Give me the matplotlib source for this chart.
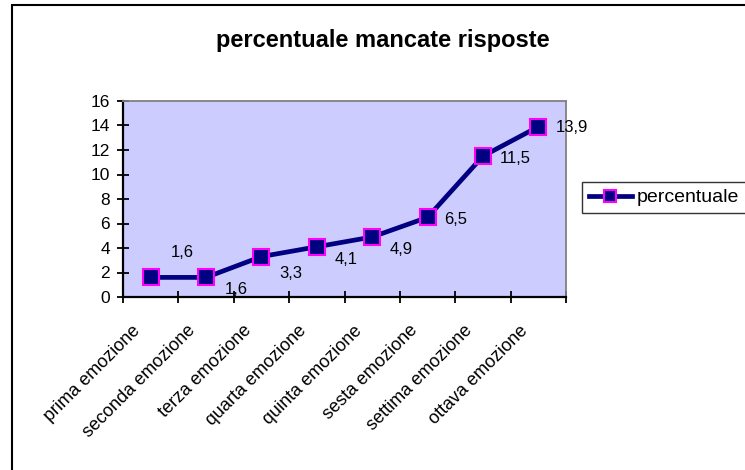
import matplotlib.pyplot as plt
from matplotlib.patches import Rectangle

plt.rcParams['font.family'] = ['Liberation Sans', 'DejaVu Sans']

categorie = ['prima emozione', 'seconda emozione', 'terza emozione', 'quarta emozione',
             'quinta emozione', 'sesta emozione', 'settima emozione', 'ottava emozione']
percentuale = [1.6, 1.6, 3.3, 4.1, 4.9, 6.5, 11.5, 13.9]
etichette = ['1,6', '1,6', '3,3', '4,1', '4,9', '6,5', '11,5', '13,9']
# offset delle etichette (pixel, x e y verso il basso)
offset = [(32, -25), (30, 12), (29, 17), (29, 13), (29, 13), (28, 2), (32, 2), (34, 1)]

fig = plt.figure(figsize=(7.45, 4.7), dpi=100)
ax = fig.add_axes([123/745, 1-297/470, (566-123)/745, (297-101)/470])
ax.set_facecolor('#CCCCFF')

x = list(range(len(categorie)))
ax.plot(x, percentuale, color='#000080', lw=3.4, marker='s', ms=12, zorder=3,
        mfc='#000080', mec='#FF00FF', mew=1.5, label='percentuale')

for xi, yi, t, (dx, dy) in zip(x, percentuale, etichette, offset):
    ax.annotate(t, (xi, yi), xytext=(dx*0.72, -dy*0.72), textcoords='offset points',
                ha='center', va='center', fontsize=12)

ax.set_xlim(-0.5, len(categorie) - 0.5)
ax.set_ylim(0, 16)
ax.set_yticks(range(0, 17, 2))
ax.set_xticks([i - 0.5 for i in range(len(categorie) + 1)])
ax.set_xticklabels([])
# etichette un po' spostate a sinistra rispetto al centro della categoria
ax.set_xticks([xi - 0.34 for xi in x], minor=True)
ax.set_xticklabels(categorie, minor=True, rotation=45, ha='right', va='top',
                   rotation_mode='anchor', fontsize=13)
ax.tick_params(axis='x', which='minor', length=0, pad=18)
ax.tick_params(axis='x', which='major', direction='inout', length=8, width=1.3)
ax.tick_params(axis='y', direction='inout', length=9, width=1.3, labelsize=12.5, pad=5)

for s in ['left', 'bottom']:
    ax.spines[s].set_color('black')
    ax.spines[s].set_linewidth(1.6)
for s in ['top', 'right']:
    ax.spines[s].set_color('#808080')
    ax.spines[s].set_linewidth(1.3)

fig.text(383/745, 1-40/470, 'percentuale mancate risposte', ha='center', va='center',
         fontsize=17, fontweight='bold')

leg = fig.legend(loc='upper left', bbox_to_anchor=(582/745, 1-182/470), fontsize=14,
                 frameon=True, fancybox=False, borderpad=0.35, handlelength=2.2,
                 handletextpad=0.25, borderaxespad=0, markerscale=0.75)
leg.get_frame().set_edgecolor('black')
leg.get_frame().set_linewidth(1.0)

fig.patches.append(Rectangle((12/745, -0.1), 1.2, 1 - 5/470 + 0.1, transform=fig.transFigure,
                             fill=False, edgecolor='black', lw=1.5, clip_on=False))

fig.savefig('out.png', dpi=100)
